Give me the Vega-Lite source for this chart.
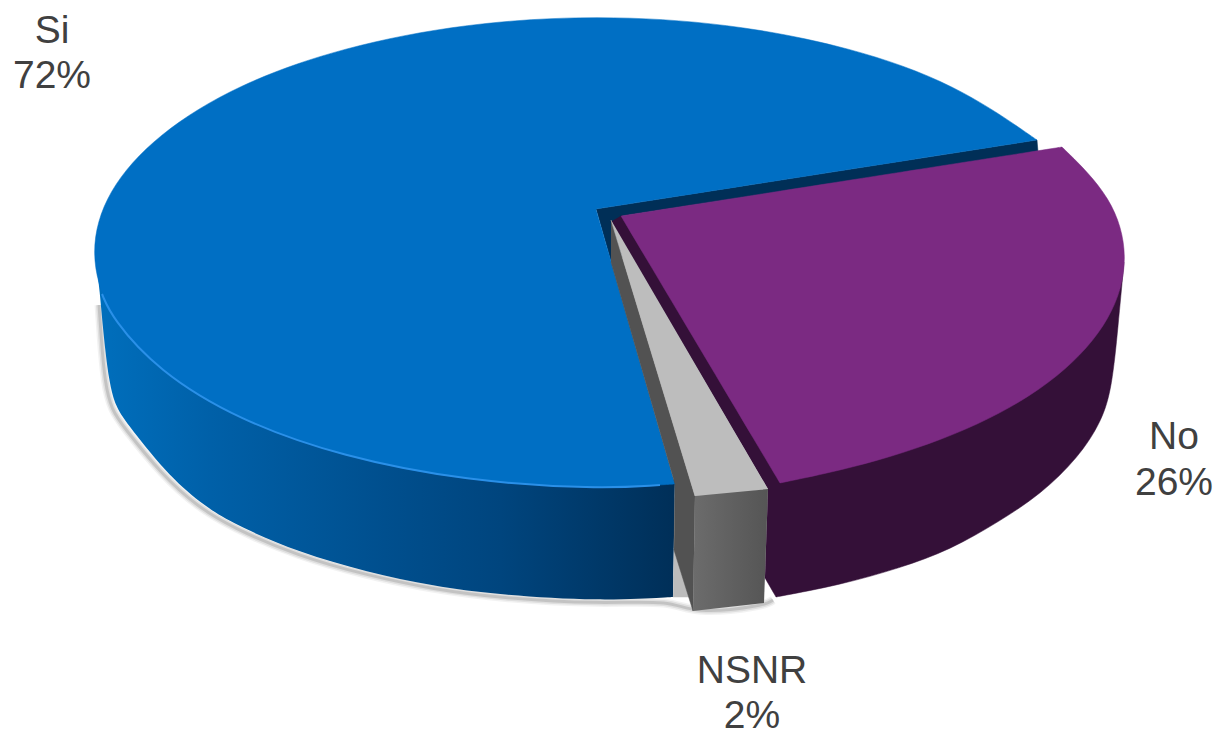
{"$schema":"https://vega.github.io/schema/vega-lite/v6.json","width":1219,"height":731,"padding":0,"autosize":"none","background":"white","view":{"stroke":null},
"datasets":{"labels":[{"t":"Si","x":52,"y":43},{"t":"72%","x":52,"y":88},{"t":"No","x":1174,"y":449},{"t":"26%","x":1174,"y":495},{"t":"NSNR","x":752,"y":683},{"t":"2%","x":752,"y":728}],
"shadow":[{"i":0,"x":99,"y":305},{"i":1,"x":101,"y":335},{"i":2,"x":105,"y":385},{"i":3,"x":112,"y":410},{"i":4,"x":122,"y":425},{"i":5,"x":163,"y":476},{"i":6,"x":197,"y":506},{"i":7,"x":231,"y":527},{"i":8,"x":298,"y":556},{"i":9,"x":366,"y":575},{"i":10,"x":432,"y":589},{"i":11,"x":500,"y":598},{"i":12,"x":600,"y":604},{"i":13,"x":672,"y":600},{"i":14,"x":693,"y":614},{"i":15,"x":764,"y":606},{"i":16,"x":773,"y":600}],
"siSide":[{"i":1,"x":95,"y":252},{"i":2,"x":95,"y":252},{"i":3,"x":95,"y":252},{"i":4,"x":100,"y":293},{"i":5,"x":103,"y":330},{"i":6,"x":109,"y":383},{"i":7,"x":116,"y":407},{"i":8,"x":125,"y":421},{"i":9,"x":166,"y":473},{"i":10,"x":200,"y":503},{"i":11,"x":233,"y":524},{"i":12,"x":300,"y":553},{"i":13,"x":367,"y":572},{"i":14,"x":433,"y":586},{"i":15,"x":500,"y":595},{"i":16,"x":600,"y":601},{"i":17,"x":673,"y":597},{"i":18,"x":673,"y":597},{"i":19,"x":673,"y":597},{"i":20,"x":675,"y":480},{"i":21,"x":675,"y":480},{"i":22,"x":675,"y":480},{"i":23,"x":95,"y":252},{"i":24,"x":95,"y":252},{"i":25,"x":95,"y":252}],
"gap":[{"i":1,"x":674,"y":548},{"i":2,"x":690,"y":597},{"i":3,"x":673,"y":597}],
"navy":[{"i":1,"x":596,"y":209},{"i":2,"x":1037,"y":140},{"i":3,"x":1038,"y":152},{"i":4,"x":622,"y":216},{"i":5,"x":640,"y":250},{"i":6,"x":611,"y":262}],
"siTop":[{"i":1,"x":596,"y":209},{"i":2,"x":596,"y":209},{"i":3,"x":596,"y":209},{"i":4,"x":1037,"y":140},{"i":5,"x":1037,"y":140},{"i":6,"x":1037,"y":140},{"i":7,"x":956,"y":84},{"i":8,"x":851,"y":47},{"i":9,"x":728,"y":23},{"i":10,"x":597,"y":15},{"i":11,"x":466,"y":23},{"i":12,"x":343,"y":47},{"i":13,"x":238,"y":84},{"i":14,"x":157,"y":134},{"i":15,"x":106,"y":191},{"i":16,"x":89,"y":252},{"i":17,"x":106,"y":313},{"i":18,"x":157,"y":370},{"i":19,"x":238,"y":420},{"i":20,"x":343,"y":457},{"i":21,"x":466,"y":481},{"i":22,"x":597,"y":489},{"i":23,"x":675,"y":484},{"i":24,"x":675,"y":484},{"i":25,"x":675,"y":484},{"i":26,"x":596,"y":209},{"i":27,"x":596,"y":209},{"i":28,"x":596,"y":209}],
"rim":[{"i":0,"x":102,"y":294},{"i":1,"x":112,"y":318},{"i":2,"x":157,"y":370},{"i":3,"x":238,"y":420},{"i":4,"x":343,"y":457},{"i":5,"x":466,"y":481},{"i":6,"x":597,"y":489},{"i":7,"x":660,"y":485}],
"noSide":[{"i":1,"x":1124,"y":262},{"i":2,"x":1124,"y":262},{"i":3,"x":1124,"y":262},{"i":4,"x":1118,"y":327},{"i":5,"x":1112,"y":387},{"i":6,"x":1102,"y":421},{"i":7,"x":1078,"y":458},{"i":8,"x":1041,"y":494},{"i":9,"x":1000,"y":521},{"i":10,"x":950,"y":550},{"i":11,"x":900,"y":568},{"i":12,"x":840,"y":585},{"i":13,"x":776,"y":597},{"i":14,"x":776,"y":597},{"i":15,"x":776,"y":597},{"i":16,"x":765,"y":578},{"i":17,"x":765,"y":578},{"i":18,"x":765,"y":578},{"i":19,"x":768,"y":489},{"i":20,"x":768,"y":489},{"i":21,"x":768,"y":489},{"i":22,"x":611,"y":222},{"i":23,"x":611,"y":222},{"i":24,"x":611,"y":222},{"i":25,"x":621,"y":216},{"i":26,"x":621,"y":216},{"i":27,"x":621,"y":216},{"i":28,"x":1124,"y":262},{"i":29,"x":1124,"y":262},{"i":30,"x":1124,"y":262}],
"greyDark":[{"i":1,"x":611,"y":220},{"i":2,"x":695,"y":496},{"i":3,"x":693,"y":611},{"i":4,"x":674,"y":550},{"i":5,"x":675,"y":484},{"i":6,"x":611,"y":262}],
"greyLight":[{"i":1,"x":611,"y":220},{"i":2,"x":695,"y":496},{"i":3,"x":732,"y":494},{"i":4,"x":768,"y":489}],
"greyFront":[{"i":1,"x":695,"y":496},{"i":2,"x":768,"y":489},{"i":3,"x":764,"y":603},{"i":4,"x":693,"y":611}],
"noTop":[{"i":1,"x":621,"y":216},{"i":2,"x":621,"y":216},{"i":3,"x":621,"y":216},{"i":4,"x":1062,"y":147},{"i":5,"x":1062,"y":147},{"i":6,"x":1062,"y":147},{"i":7,"x":1113,"y":197},{"i":8,"x":1130,"y":258},{"i":9,"x":1113,"y":319},{"i":10,"x":1062,"y":377},{"i":11,"x":981,"y":426},{"i":12,"x":876,"y":463},{"i":13,"x":780,"y":483},{"i":14,"x":780,"y":483},{"i":15,"x":780,"y":483},{"i":16,"x":621,"y":216},{"i":17,"x":621,"y":216},{"i":18,"x":621,"y":216}]},
"encoding":{"x":{"field":"x","type":"quantitative","scale":{"domain":[0,1219],"nice":false,"zero":false},"axis":null},"y":{"field":"y","type":"quantitative","scale":{"domain":[731,0],"nice":false,"zero":false},"axis":null},"order":{"field":"i"}},
"layer":[
{"data":{"name":"shadow"},"mark":{"type":"line","stroke":"#000000","strokeOpacity":0.05,"strokeWidth":9,"interpolate":"basis"}},
{"data":{"name":"shadow"},"mark":{"type":"line","stroke":"#000000","strokeOpacity":0.08,"strokeWidth":6,"interpolate":"basis"}},
{"data":{"name":"shadow"},"mark":{"type":"line","stroke":"#000000","strokeOpacity":0.12,"strokeWidth":3,"interpolate":"basis"}},
{"data":{"name":"siSide"},"mark":{"type":"line","interpolate":"basis","strokeWidth":0,"fill":{"gradient":"linear","x1":0,"x2":1,"y1":0,"y2":0,"stops":[{"offset":0,"color":"#006fbd"},{"offset":0.2,"color":"#0060a8"},{"offset":0.5,"color":"#004f8e"},{"offset":0.7,"color":"#00457e"},{"offset":1,"color":"#002f58"}]}}},
{"data":{"name":"gap"},"mark":{"type":"line","fill":"#bcbcbc","stroke":"#bcbcbc","strokeWidth":0.5}},
{"data":{"name":"navy"},"mark":{"type":"line","fill":"#002f57","stroke":"#002f57","strokeWidth":0.5}},
{"data":{"name":"siTop"},"mark":{"type":"line","interpolate":"basis","fill":"#006fc4","stroke":"#006fc4","strokeWidth":0.5}},
{"data":{"name":"rim"},"mark":{"type":"line","interpolate":"basis","stroke":"#2a90e8","strokeWidth":2}},
{"data":{"name":"noSide"},"mark":{"type":"line","interpolate":"basis","fill":"#341038","stroke":"#341038","strokeWidth":0.5}},
{"data":{"name":"greyDark"},"mark":{"type":"line","fill":"#525252","stroke":"#525252","strokeWidth":0.5}},
{"data":{"name":"greyLight"},"mark":{"type":"line","fill":"#bdbdbd","stroke":"#bdbdbd","strokeWidth":0.5}},
{"data":{"name":"greyFront"},"mark":{"type":"line","strokeWidth":0,"fill":{"gradient":"linear","x1":0,"x2":1,"y1":0,"y2":0,"stops":[{"offset":0,"color":"#6c6c6c"},{"offset":1,"color":"#555555"}]}}},
{"data":{"name":"noTop"},"mark":{"type":"line","interpolate":"basis","fill":"#7b2a82","stroke":"#7b2a82","strokeWidth":0.5}},
{"data":{"name":"labels"},"mark":{"type":"text","font":"Liberation Sans","fontSize":39,"color":"#404040","align":"center","baseline":"alphabetic"},"encoding":{"text":{"field":"t"},"order":null}}
]}
